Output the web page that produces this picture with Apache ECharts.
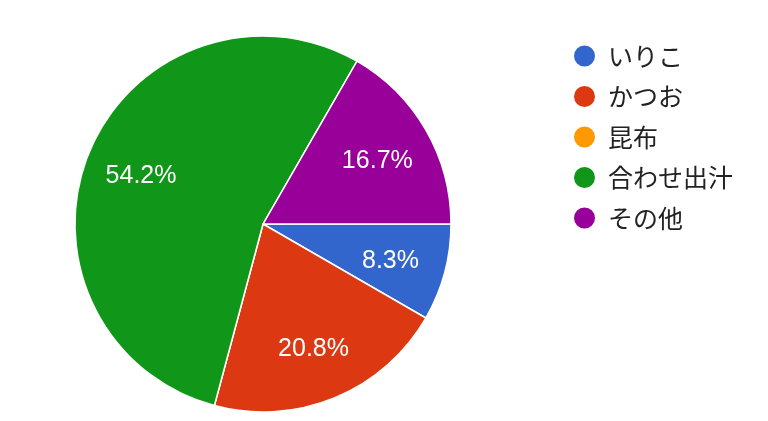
<!DOCTYPE html>
<html>
<head>
<meta charset="utf-8">
<script src="https://cdn.jsdelivr.net/npm/echarts@6/dist/echarts.min.js"></script>
<style>
html,body{margin:0;padding:0;background:#fff;}
#chart{width:768px;height:421px;}
</style>
</head>
<body>
<div id="chart"></div>
<script>
var categories = ['いりこ', 'かつお', '昆布', '合わせ出汁', 'その他'];
var counts = [2, 5, 0, 13, 4];
var colors = ['#3366cc', '#dc3912', '#ff9900', '#109618', '#990099'];

var data = categories.map(function (c, i) { return { name: c, value: counts[i] }; });

var chart = echarts.init(document.getElementById('chart'));
chart.setOption({
  animation: false,
  color: colors,
  legend: {
    orient: 'vertical',
    left: 572,
    top: 43.5,
    padding: 0,
    icon: 'circle',
    itemWidth: 23,
    itemHeight: 23,
    itemGap: 15.5,
    data: categories,
    textStyle: {
      fontFamily: '"Noto Sans CJK JP", sans-serif',
      fontSize: 25,
      lineHeight: 25,
      color: '#222222',
      padding: [0, 0, 0, 7]
    }
  },
  series: [
    {
      type: 'pie',
      center: [263, 224],
      radius: [0, 188],
      startAngle: 0,
      clockwise: true,
      percentPrecision: 1,
      silent: true,
      itemStyle: { borderColor: '#ffffff', borderWidth: 1.5 },
      label: { show: false },
      labelLine: { show: false },
      data: data
    },
    {
      type: 'pie',
      center: [263, 224],
      radius: [70, 188],
      startAngle: 0,
      clockwise: true,
      percentPrecision: 1,
      silent: true,
      itemStyle: { color: 'rgba(0,0,0,0)', borderWidth: 0 },
      label: {
        show: true,
        position: 'inside',
        color: '#ffffff',
        offset: [0, 3],
        fontFamily: '"Liberation Sans", Arial, sans-serif',
        fontSize: 25,
        formatter: function (p) { return p.value > 0 ? p.percent.toFixed(1) + '%' : ''; }
      },
      labelLine: { show: false },
      data: data
    }
  ]
});
</script>
</body>
</html>
